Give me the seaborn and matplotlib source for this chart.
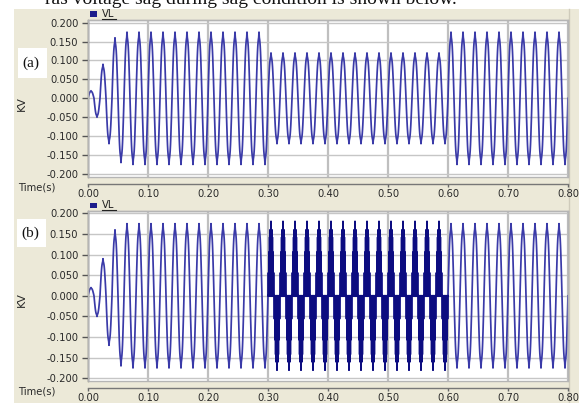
import numpy as np
import pandas as pd
import matplotlib
matplotlib.use("Agg")
import matplotlib.pyplot as plt
import seaborn as sns
from matplotlib.patches import Rectangle
from matplotlib.lines import Line2D

# ---------------- data ----------------
time_ticks = [0.00, 0.10, 0.20, 0.30, 0.40, 0.50, 0.60, 0.70, 0.80]
time_labels = ["0.00", "0.10", "0.20", "0.30", "0.40", "0.50", "0.60", "0.70", "0.80"]
kv_ticks = [-0.200, -0.150, -0.100, -0.050, 0.000, 0.050, 0.100, 0.150, 0.200]
kv_labels = ["-0.200", "-0.150", "-0.100", "-0.050", "0.000", "0.050", "0.100", "0.150", "0.200"]

half_cycle_s = 0.01          # 50 Hz supply
n_half_cycles = 80           # 0 .. 0.80 s
# normalised shape of one positive half-cycle (20 samples, peak has a narrow tip)
half_shape = [0.00, 0.16, 0.31, 0.45, 0.59, 0.70, 0.79, 0.85, 0.89, 0.92,
              1.00, 0.92, 0.89, 0.85, 0.79, 0.70, 0.59, 0.45, 0.31, 0.16]
startup_peaks = [0.02, 0.05, 0.09, 0.12, 0.16, 0.17]   # first half-cycles (kV)
steady_peak = 0.175
sag_peak_a = 0.12            # panel (a) during the sag
disturb_peak_b = 0.18        # panel (b) during the disturbance
chop_pattern_b = [1.0, 0.0]  # fast chopping seen in panel (b)
event_start_half = 30        # 0.30 s
event_end_half = 60          # 0.60 s


def build_wave(event_peak, chop):
    segs = []
    for k in range(n_half_cycles):
        in_event = event_start_half <= k < event_end_half
        if k < len(startup_peaks):
            amp = startup_peaks[k]
        elif in_event:
            amp = event_peak
        else:
            amp = steady_peak
        sign = 1.0 if k % 2 == 0 else -1.0
        seg = np.array(half_shape) * amp * sign
        if chop is not None and in_event:
            seg = seg * np.resize(np.array(chop), len(seg))
        segs.append(seg)
    v = np.concatenate(segs + [np.array([0.0])])
    t = np.arange(len(v)) * half_cycle_s / len(half_shape)
    return pd.DataFrame({"t": t, "kv": v})


df_a = build_wave(sag_peak_a, None)
df_b = build_wave(disturb_peak_b, chop_pattern_b)

# ---------------- figure ----------------
plt.rcParams["path.simplify"] = False
plt.rcParams["font.family"] = ["DejaVu Sans"]
plt.rcParams["font.size"] = 7.2

W, H = 579, 403
fig = plt.figure(figsize=(W / 100, H / 100), dpi=100)
fig.patch.set_facecolor("white")
fig.add_artist(Rectangle((14 / W, 0), 1 - 14 / W, (H - 9) / H, transform=fig.transFigure,
                         facecolor="#ECE9D8", edgecolor="none", zorder=-10))
fig.add_artist(Line2D([569 / W, 569 / W], [0, (H - 9) / H], transform=fig.transFigure,
                      color="#cfcbbb", lw=1, zorder=-9))

# cut-off caption text at the very top
fig.text(45 / W, 1 - 4 / H, "ras voltage sag during sag condition is shown below.",
         family="Liberation Serif", fontsize=14, va="baseline", ha="left", color="#111")

wave_color = "#3a3aa8"
dark_color = "#0c0c80"
label_color = "#2a2a2a"


def px_box(left, top, right, bottom):
    return [left / W, (H - bottom) / H, (right - left) / W, (bottom - top) / H]


panels = [
    dict(df=df_a, box=px_box(88, 20, 568, 177), ylim=(-0.208, 0.207), tag="(a)",
         tagbox=(18, 48, 47, 78), legend_y=14, time_y=188, kv_y=104, dark=False),
    dict(df=df_b, box=px_box(88, 211, 568, 381), ylim=(-0.2065, 0.2056), tag="(b)",
         tagbox=(17, 219, 46, 247), legend_y=205, time_y=392, kv_y=300, dark=True),
]

for p in panels:
    ax = fig.add_axes(p["box"])
    ax.set_facecolor("white")
    sns.lineplot(data=p["df"], x="t", y="kv", ax=ax, color=wave_color, lw=1.25,
                 estimator=None, sort=False, legend=False)
    if p["dark"]:
        d = p["df"]
        seg = d[(d["t"] >= event_start_half * half_cycle_s) & (d["t"] <= event_end_half * half_cycle_s)]
        sns.lineplot(data=seg, x="t", y="kv", ax=ax, color=dark_color, lw=1.4,
                     estimator=None, sort=False, legend=False)
    ax.set_xlim(0, 0.80)
    ax.set_ylim(*p["ylim"])
    ax.set_xticks(time_ticks)
    ax.set_xticklabels(time_labels)
    ax.set_yticks(kv_ticks)
    ax.set_yticklabels(kv_labels)
    ax.set_xlabel("")
    ax.set_ylabel("")
    ax.grid(True, axis="y", color="#c6c6c6", lw=1.0)
    ax.grid(True, axis="x", color="#bfbfbf", lw=1.6)
    ax.set_axisbelow(True)
    ax.tick_params(axis="y", direction="out", length=4, width=1, pad=3, colors="#555555",
                   labelcolor=label_color, labelsize=7.2)
    ax.tick_params(axis="x", direction="out", length=2, width=1, pad=1.5, colors="#666666",
                   labelcolor=label_color, labelsize=7.2)
    for s in ["top", "right"]:
        ax.spines[s].set_color("#b5b5b5")
        ax.spines[s].set_linewidth(1)
    ax.spines["left"].set_color("#555555")
    ax.spines["left"].set_linewidth(1)
    ax.spines["bottom"].set_position(("outward", 5))
    ax.spines["bottom"].set_color("#777777")
    ax.spines["bottom"].set_linewidth(1)
    ax.add_patch(Rectangle((0, 0), 1, 1, transform=ax.transAxes, fill=False,
                           edgecolor="#b5b5b5", lw=1, zorder=5, clip_on=False))

    # legend "VL"
    ly = p["legend_y"]
    fig.add_artist(Rectangle((90 / W, (H - ly - 2.5) / H), 7 / W, 5 / H, transform=fig.transFigure,
                             facecolor="#1c1c8c", edgecolor="none"))
    fig.text(102 / W, (H - ly) / H, "VL", fontsize=7.2, color="#222222", va="center", ha="left")
    fig.add_artist(Line2D([102 / W, 116 / W], [(H - ly - 5) / H] * 2, transform=fig.transFigure,
                          color="#222222", lw=0.8))

    # panel tag in white box
    l, t, r, b = p["tagbox"]
    fig.add_artist(Rectangle((l / W, (H - b) / H), (r - l) / W, (b - t) / H, transform=fig.transFigure,
                             facecolor="white", edgecolor="none"))
    fig.text((l + 4) / W, (H - (t + b) / 2) / H, p["tag"], family="Liberation Serif",
             fontsize=11, va="center", ha="left", color="#111111")

    # Time(s) and KV labels
    fig.text(18 / W, (H - p["time_y"]) / H, "Time(s)", fontsize=7.2, color=label_color,
             va="center", ha="left")
    fig.text(22 / W, (H - p["kv_y"]) / H, "KV", fontsize=8, color=label_color,
             va="center", ha="center", rotation=90)

fig.savefig("out.png", dpi=100)
